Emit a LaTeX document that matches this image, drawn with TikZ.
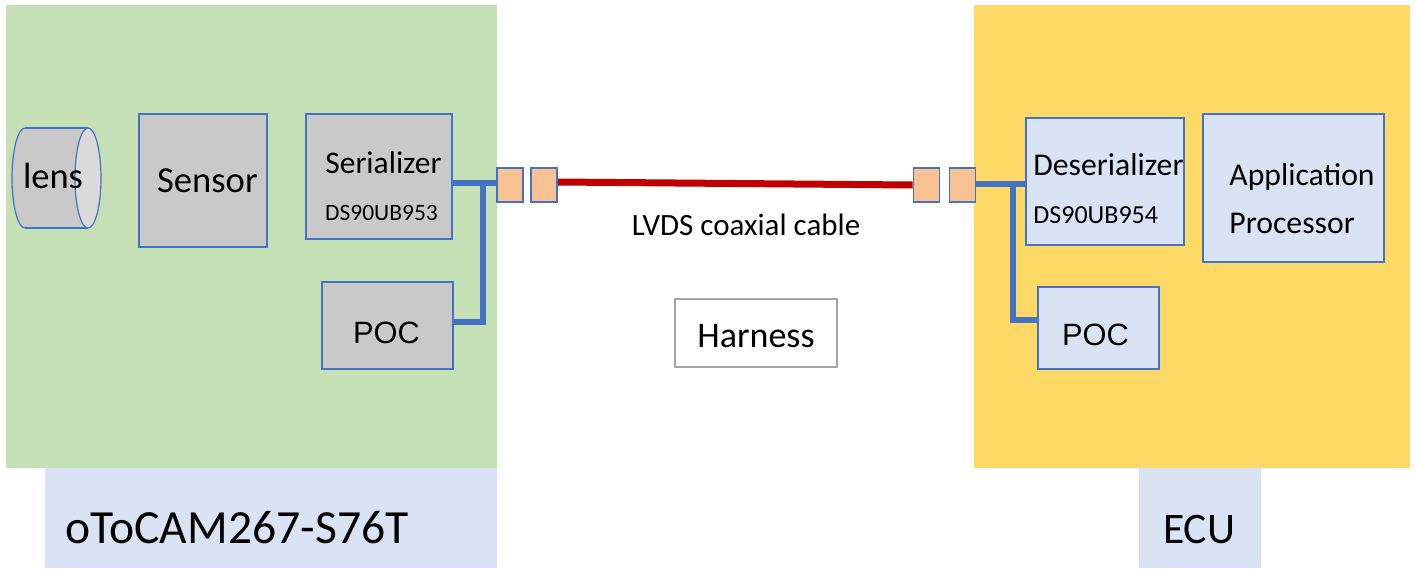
\documentclass[tikz,border=0pt]{standalone}
\usepackage{fontspec}
\setmainfont{Carlito}
\newfontfamily\arialfont{Liberation Sans}
\usepackage{tikz}
\usetikzlibrary{calc}

\definecolor{camgreen}{HTML}{C5E0B4}
\definecolor{ecuyellow}{HTML}{FFD966}
\definecolor{paleblue}{HTML}{DAE3F3}
\definecolor{edgeblue}{HTML}{4472C4}
\definecolor{partgray}{HTML}{C9C9C9}
\definecolor{lensface}{HTML}{DADADA}
\definecolor{plugorange}{RGB}{248,194,146}
\definecolor{cablered}{HTML}{C00000}

\tikzset{
  part/.style={draw=edgeblue, line width=0.6pt, fill=partgray, inner sep=0pt},
  ecupart/.style={draw=edgeblue, line width=0.6pt, fill=paleblue, inner sep=0pt},
  plug/.style={draw=edgeblue, line width=0.8pt, fill=plugorange, inner sep=0pt,
    minimum width=13pt, minimum height=17pt},
  tag/.style={fill=paleblue, inner sep=0pt, minimum height=50pt},
  txt/.style={inner sep=0pt, anchor=base},
  wire/.style={draw=edgeblue, line width=3pt},
  cable/.style={draw=cablered, line width=3.5pt}
}

\begin{document}
\begin{tikzpicture}[x=0.5pt,y=-0.5pt]
  \useasboundingbox (0,0) rectangle (1416,568);

  %% The two sides
  \fill[camgreen] (6,5) rectangle (497,468);
  \fill[ecuyellow] (974,5) rectangle (1410,468);
  \node[tag, minimum width=226pt] (camtag) at (271,518) {};
  \node[tag, minimum width=61pt] (ecutag) at (1200,518) {};
  \node[txt, anchor=base west, font=\fontsize{23.8}{28}\selectfont] (camname) at (65,543) {oToCAM267-S76T};
  \node[txt, font=\fontsize{21.8}{26}\selectfont] (ecuname) at (1199,543) {ECU};

  %% Lens drawn as a cylinder
  \filldraw[draw=edgeblue, line width=0.6pt, fill=partgray] (25,178) ellipse [x radius=13, y radius=50];
  \fill[partgray] (25,128) rectangle (88,228);
  \draw[edgeblue, line width=0.6pt] (25,128) -- (88,128) (25,228) -- (88,228);
  \filldraw[draw=edgeblue, line width=0.6pt, fill=lensface] (88,178) ellipse [x radius=13, y radius=50];
  \node[txt, font=\fontsize{18.25}{22}\selectfont] (lens) at (53,188) {lens};

  %% Camera parts
  \node[part, minimum width=64pt, minimum height=66.5pt] (sensor) at (203,180.5) {};
  \node[txt, font=\fontsize{18.3}{22}\selectfont] (sensorname) at (207.5,192) {Sensor};
  \node[part, minimum width=73pt, minimum height=62.5pt] (ser) at (379,176.5) {};
  \node[txt, font=\fontsize{15.75}{19}\selectfont] (sername) at (383.5,173) {Serializer};
  \node[txt, font=\fontsize{11.75}{14}\selectfont] (serchip) at (381.5,220) {DS90UB953};
  \node[part, minimum width=65.5pt, minimum height=43.5pt] (pocL) at (387.5,325.5) {};
  \node[txt, font=\arialfont\fontsize{15.4}{18}\selectfont] (pocLname) at (386.5,343) {POC};

  %% ECU parts
  \node[ecupart, minimum width=79pt, minimum height=63.5pt] (des) at (1105,181.5) {};
  \node[txt, anchor=base west, font=\fontsize{15.85}{19}\selectfont] (desname) at (1033,175) {Deserializer};
  \node[txt, anchor=base west, font=\fontsize{13}{16}\selectfont] (deschip) at (1033,223) {DS90UB954};
  \node[ecupart, minimum width=90.5pt, minimum height=74pt] (app) at (1293.5,188) {};
  \node[txt, anchor=base west, font=\fontsize{15.85}{19}\selectfont] (appname) at (1229,185) {Application};
  \node[txt, anchor=base west, font=\fontsize{15.85}{19}\selectfont] (appname2) at (1229,233) {Processor};
  \node[ecupart, minimum width=60.5pt, minimum height=41pt] (pocR) at (1098.5,328) {};
  \node[txt, font=\arialfont\fontsize{15.4}{18}\selectfont] (pocRname) at (1095.5,345) {POC};

  %% Plugs at each end of the cable
  \foreach \name/\x in {plugL1/510,plugL2/544,plugR1/926.5,plugR2/962.5}
    \node[plug] (\name) at (\x,185) {};

  %% Harness
  \draw[cable] ([yshift=1.5pt]plugL2.east) -- (plugR1.west);
  \node[txt, font=\fontsize{15.5}{19}\selectfont] (lvds) at (746,235) {LVDS coaxial cable};
  \node[draw=black!35, line width=0.6pt, inner sep=0pt, minimum width=81pt, minimum height=34pt] (harness) at (756,333) {};
  \node[txt, font=\fontsize{18}{22}\selectfont] (harnessname) at (756,347) {Harness};

  %% Power over coax wiring
  \coordinate (tapL) at ($(plugL1.west)+(-13,-2)$);
  \coordinate (tapR) at ($(plugR2.east)+(37,-1)$);
  \draw[wire] (ser.east |- tapL) -- (tapL -| plugL1.west);
  \draw[wire] (tapL) |- ([yshift=2pt]pocL.east);
  \draw[wire] (tapR -| plugR2.east) -- (des.west |- tapR);
  \draw[wire] (tapR) |- ([yshift=4pt]pocR.west);

\end{tikzpicture}
\end{document}
